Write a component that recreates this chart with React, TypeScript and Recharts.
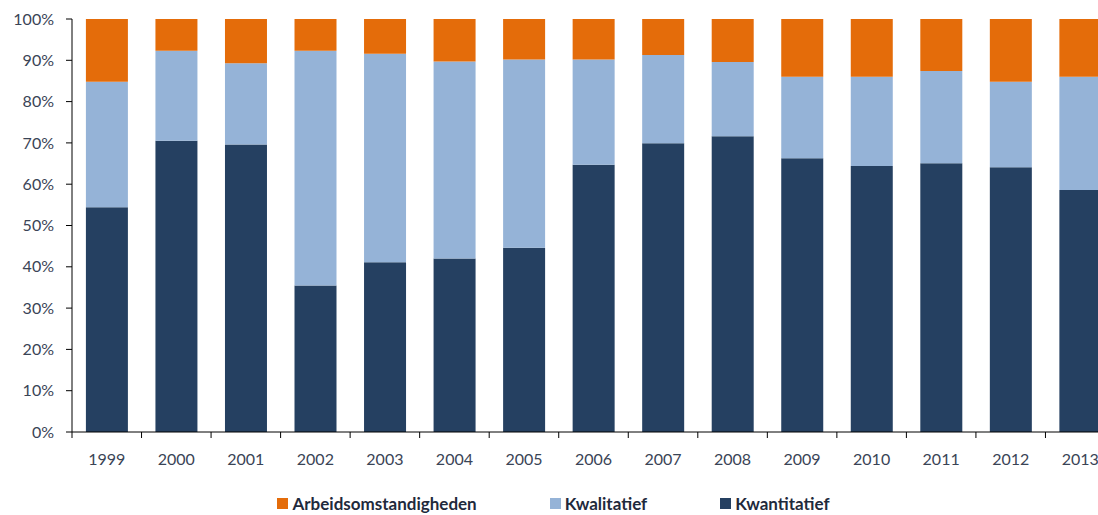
import { BarChart, Bar, XAxis, YAxis, Legend } from 'recharts'

const years = ['1999', '2000', '2001', '2002', '2003', '2004', '2005', '2006', '2007', '2008', '2009', '2010', '2011', '2012', '2013']
const kwantitatief = [54.4, 70.5, 69.6, 35.5, 41.1, 42.0, 44.6, 64.7, 69.9, 71.6, 66.3, 64.4, 65.1, 64.1, 58.6]
const kwalitatief = [30.4, 21.8, 19.7, 56.8, 50.5, 47.7, 45.6, 25.5, 21.4, 18.0, 19.7, 21.6, 22.3, 20.7, 27.4]
const arbeidsomstandigheden = [15.2, 7.7, 10.7, 7.7, 8.4, 10.3, 9.8, 9.8, 8.7, 10.4, 14.0, 14.0, 12.6, 15.2, 14.0]
const yTicks = [0, 10, 20, 30, 40, 50, 60, 70, 80, 90, 100]

const series = [
  { key: 'Arbeidsomstandigheden', color: '#E46C0A' },
  { key: 'Kwalitatief', color: '#95B3D7' },
  { key: 'Kwantitatief', color: '#254061' },
]

const data = years.map((year, i) => ({
  year,
  Kwantitatief: kwantitatief[i],
  Kwalitatief: kwalitatief[i],
  Arbeidsomstandigheden: arbeidsomstandigheden[i],
}))

const FONT = 'Lato, "Open Sans", sans-serif'
const TEXT = '#3a4456'

function YearTick(props: any) {
  const { x, y, payload, width, visibleTicksCount } = props
  const half = payload.offset ?? width / visibleTicksCount / 2
  return (
    <g>
      <line x1={x - half} x2={x - half} y1={y} y2={y + 6} stroke="#000" />
      <text x={x} y={y + 33} textAnchor="middle" fontSize={16} fontFamily={FONT} fill={TEXT}>
        {payload.value}
      </text>
    </g>
  )
}

function LegendBox() {
  return (
    <div
      style={{
        display: 'flex',
        justifyContent: 'center',
        alignItems: 'center',
        gap: 73,
        height: 24,
        paddingRight: 8,
        fontFamily: FONT,
        fontWeight: 700,
        fontSize: 17,
        color: '#1f2a3c',
      }}
    >
      {series.map((s) => (
        <div key={s.key} style={{ display: 'flex', alignItems: 'center' }}>
          <span style={{ width: 11, height: 11, background: s.color, marginRight: 4, display: 'inline-block' }} />
          <span>{s.key}</span>
        </div>
      ))}
    </div>
  )
}

export default function App() {
  return (
    <div style={{ position: 'absolute', left: 0, top: 0, width: 1098, height: 515, overflow: 'hidden', background: '#fff' }}>
      <BarChart
        width={1115}
        height={515}
        data={data}
        margin={{ top: 19, right: 0, bottom: 0, left: 0 }}
        barCategoryGap="20%"
      >
        <XAxis
          dataKey="year"
          interval={0}
          height={59}
          tickLine={false}
          tickSize={0}
          tickMargin={0}
          axisLine={{ stroke: '#000' }}
          tick={<YearTick />}
        />
        <YAxis
          width={72}
          domain={[0, 100]}
          ticks={yTicks}
          interval={0}
          tickFormatter={(v: number) => `${v}%`}
          axisLine={{ stroke: '#000' }}
          tickLine={{ stroke: '#000' }}
          tickSize={6}
          tickMargin={12}
          tick={{ fontSize: 16, fontFamily: FONT, fill: TEXT }}
        />
        <Legend verticalAlign="bottom" height={24} content={<LegendBox />} />
        <Bar dataKey="Kwantitatief" stackId="a" fill="#254061" isAnimationActive={false} />
        <Bar dataKey="Kwalitatief" stackId="a" fill="#95B3D7" isAnimationActive={false} />
        <Bar dataKey="Arbeidsomstandigheden" stackId="a" fill="#E46C0A" isAnimationActive={false} />
      </BarChart>
    </div>
  )
}
